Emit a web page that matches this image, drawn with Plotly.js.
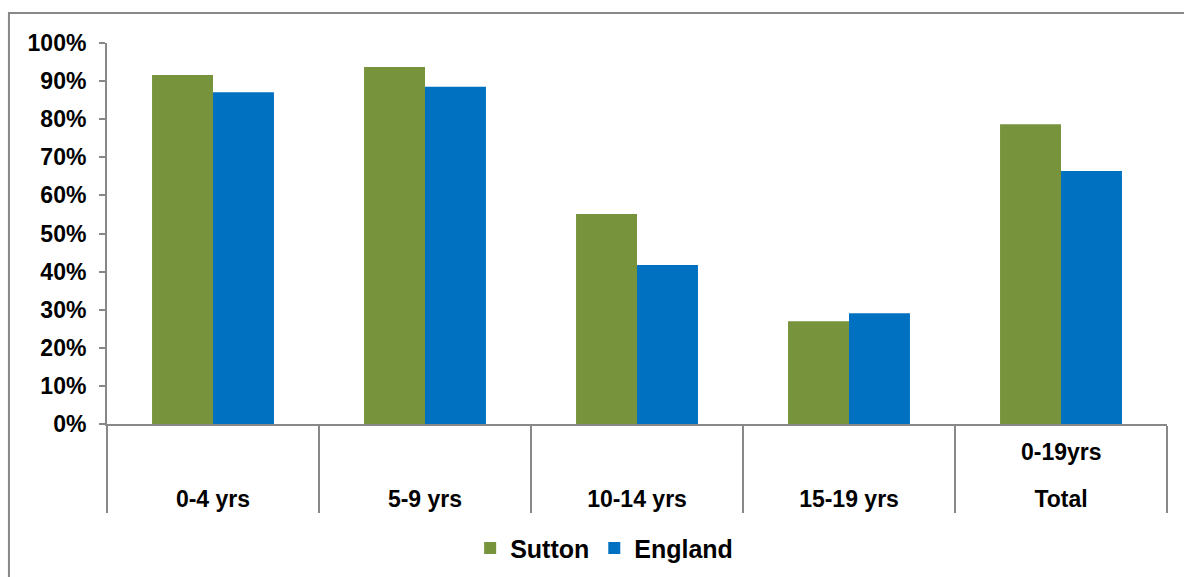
<!DOCTYPE html>
<html>
<head>
<meta charset="utf-8">
<script src="https://cdn.plot.ly/plotly-3.0.1.min.js"></script>
<style>html,body{margin:0;padding:0;background:#fff;}#chart{width:1184px;height:577px;}</style>
</head>
<body>
<div id="chart"></div>
<script>
const categories = ["0-4 yrs", "5-9 yrs", "10-14 yrs", "15-19 yrs", "Total"];
const upperLabels = ["", "", "", "", "0-19yrs"];
const sutton = [0.916, 0.937, 0.551, 0.270, 0.787];
const england = [0.871, 0.885, 0.417, 0.291, 0.664];
const yTickVals = [0, 0.1, 0.2, 0.3, 0.4, 0.5, 0.6, 0.7, 0.8, 0.9, 1.0];

const FONT = "Liberation Sans, Arial, sans-serif";

const traces = [
  {type: "bar", name: "Sutton", x: categories, y: sutton, marker: {color: "#77933C"}},
  {type: "bar", name: "England", x: categories, y: england, marker: {color: "#0070C0"}}
];

const annotations = upperLabels.map((t, i) => ({
  text: "<b>" + t + "</b>", x: categories[i], xref: "x", y: -0.0735, yref: "paper",
  showarrow: false, xanchor: "center", yanchor: "middle",
  font: {family: FONT, size: 23, color: "#000"}
})).filter(a => a.text !== "<b></b>");

const layout = {
  width: 1184, height: 577,
  margin: {l: 107, r: 17, t: 43, b: 153},
  paper_bgcolor: "#fff", plot_bgcolor: "#fff",
  barmode: "group", bargap: 0.425, bargroupgap: 0,
  showlegend: true,
  legend: {orientation: "h", x: 0.469, xanchor: "center", xref: "paper",
    y: 0.05, yanchor: "middle", yref: "container",
    font: {family: FONT, size: 25, color: "#000", weight: "bold"}, itemwidth: 30, tracegroupgap: 0},
  xaxis: {
    type: "category", showline: true, linecolor: "#888", linewidth: 2, automargin: false,
    ticks: "outside", tickson: "boundaries", ticklen: 87, tickwidth: 2, tickcolor: "#888",
    ticklabelstandoff: 53,
    tickfont: {family: FONT, size: 23, color: "#000", weight: "bold"},
    showgrid: false, zeroline: false, fixedrange: true
  },
  yaxis: {
    range: [0, 1], tickvals: yTickVals, tickformat: ".0%", automargin: false,
    showline: true, linecolor: "#888", linewidth: 2,
    ticks: "outside", ticklen: 6, tickwidth: 2, tickcolor: "#888",
    ticklabelstandoff: 8,
    tickfont: {family: FONT, size: 23, color: "#000", weight: "bold"},
    showgrid: false, zeroline: false, fixedrange: true
  },
  annotations: annotations,
  shapes: [{
    type: "rect", xref: "paper", yref: "paper",
    x0: -0.0925, x1: 1.2, y0: -1, y1: 1.0787,
    line: {color: "#888", width: 2}, fillcolor: "rgba(0,0,0,0)", layer: "below"
  }]
};

Plotly.newPlot("chart", traces, layout, {displayModeBar: false, staticPlot: true});
</script>
</body>
</html>
